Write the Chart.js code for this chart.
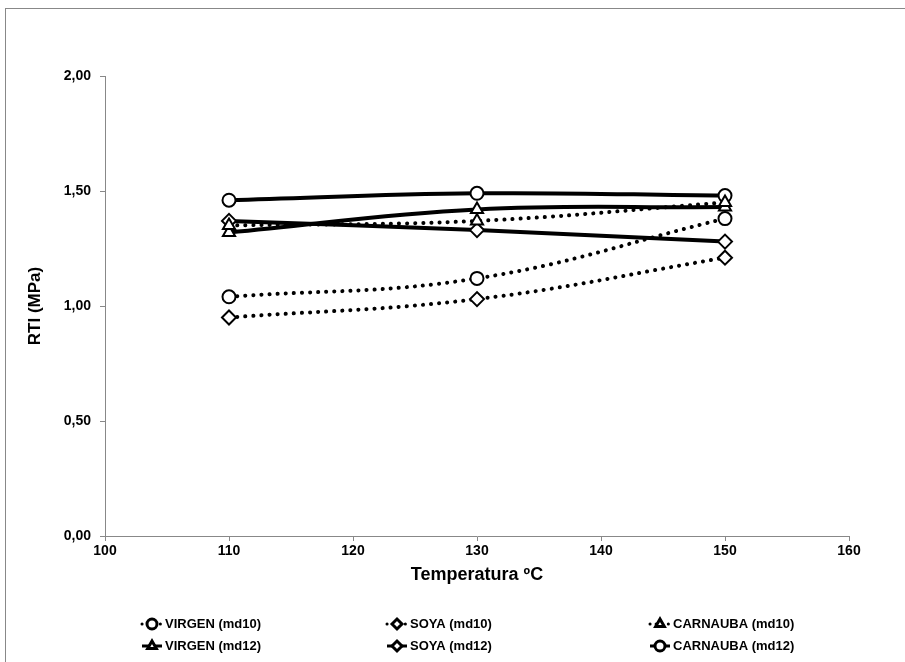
<!DOCTYPE html>
<html>
<head>
<meta charset="utf-8">
<script src="https://cdn.jsdelivr.net/npm/chart.js@4"></script>
<style>
  body { margin: 0; background: #fff; }
</style>
</head>
<body>
<canvas id="grafica" width="905" height="662"></canvas>
<script>
// datos
const temperaturas = [110, 130, 150];
const virgenMd10 = [1.04, 1.12, 1.38];
const soyaMd10 = [0.95, 1.03, 1.21];
const carnaubaMd10 = [1.35, 1.37, 1.45];
const virgenMd12 = [1.32, 1.42, 1.43];
const soyaMd12 = [1.37, 1.33, 1.28];
const carnaubaMd12 = [1.46, 1.49, 1.48];

const etiquetas = ['VIRGEN (md10)', 'SOYA (md10)', 'CARNAUBA (md10)', 'VIRGEN (md12)', 'SOYA (md12)', 'CARNAUBA (md12)'];
const series = [virgenMd10, soyaMd10, carnaubaMd10, virgenMd12, soyaMd12, carnaubaMd12];
const marcadores = ['circle', 'rectRot', 'triangle', 'triangle', 'rectRot', 'circle'];

const fuente = 'Liberation Sans';

function puntos(valores) {
    return temperaturas.map((t, i) => ({ x: t, y: valores[i] }));
}

const datasets = series.map((valores, i) => {
    const punteada = i < 3;
    return {
        label: etiquetas[i],
        data: puntos(valores),
        borderColor: '#000',
        borderWidth: 4,
        borderDash: punteada ? [0.1, 8] : [],
        borderCapStyle: punteada ? 'round' : 'butt',
        tension: 0.4,
        pointStyle: marcadores[i],
        pointRadius: marcadores[i] === 'circle' ? 6.5 : 7,
        pointBorderWidth: 2,
        pointBackgroundColor: '#fff',
        pointBorderColor: '#000',
        fill: false
    };
});

// fondo y borde del grafico
const fondo = {
    id: 'fondo',
    beforeDraw(chart) {
        const ctx = chart.ctx;
        ctx.save();
        ctx.fillStyle = '#fff';
        ctx.fillRect(0, 0, chart.width, chart.height);
        ctx.strokeStyle = '#888';
        ctx.lineWidth = 1;
        ctx.strokeRect(5.5, 8.5, chart.width + 10, chart.height + 10);
        ctx.restore();
    }
};

// leyenda en dos filas y tres columnas
const leyenda = {
    id: 'leyenda',
    afterDraw(chart) {
        const ctx = chart.ctx;
        const columnas = [140, 385, 648];
        const filas = [624, 646];
        chart.data.datasets.forEach((ds, i) => {
            const x = columnas[i % 3];
            const y = filas[Math.floor(i / 3)];
            ctx.save();
            ctx.strokeStyle = '#000';
            ctx.lineWidth = 3;
            ctx.lineCap = ds.borderCapStyle;
            ctx.setLineDash(ds.borderDash.length ? [0.1, 6] : []);
            ctx.beginPath();
            ctx.moveTo(x + 2, y);
            ctx.lineTo(x + 22, y);
            ctx.stroke();
            ctx.setLineDash([]);
            ctx.fillStyle = '#fff';
            ctx.strokeStyle = '#000';
            Chart.helpers.drawPoint(ctx, { pointStyle: ds.pointStyle, radius: 5, borderWidth: 1.2, rotation: 0 }, x + 12, y);
            ctx.fillStyle = '#000';
            ctx.font = 'bold 13px "' + fuente + '"';
            ctx.textBaseline = 'middle';
            ctx.textAlign = 'left';
            ctx.fillText(ds.label, x + 25, y);
            ctx.restore();
        });
    }
};

const ctx = document.getElementById('grafica').getContext('2d');
new Chart(ctx, {
    type: 'line',
    data: { datasets: datasets },
    options: {
        responsive: false,
        animation: false,
        devicePixelRatio: 1,
        layout: { padding: { top: 76, right: 56, bottom: 60, left: 0 } },
        plugins: {
            legend: { display: false },
            tooltip: { enabled: false }
        },
        scales: {
            x: {
                type: 'linear',
                min: 100,
                max: 160,
                afterFit: (scale) => { scale.height = 66; },
                ticks: {
                    stepSize: 10,
                    color: '#000',
                    padding: 2,
                    font: { family: fuente, size: 14, weight: 'bold' }
                },
                grid: { drawOnChartArea: false, tickLength: 5, color: '#888' },
                border: { color: '#888' },
                title: {
                    display: true,
                    text: 'Temperatura ºC',
                    color: '#000',
                    font: { family: fuente, size: 18, weight: 'bold' },
                    padding: { top: 0, bottom: 16 }
                }
            },
            y: {
                min: 0,
                max: 2,
                afterFit: (scale) => { scale.width = 105; },
                ticks: {
                    stepSize: 0.5,
                    color: '#000',
                    padding: 9,
                    font: { family: fuente, size: 14, weight: 'bold' },
                    callback: (v) => v.toFixed(2).replace('.', ',')
                },
                grid: { drawOnChartArea: false, tickLength: 5, color: '#888' },
                border: { color: '#888' },
                title: {
                    display: true,
                    text: 'RTI (MPa)',
                    color: '#000',
                    font: { family: fuente, size: 17, weight: 'bold' },
                    padding: { top: 25, bottom: 0 }
                }
            }
        }
    },
    plugins: [fondo, leyenda]
});
</script>
</body>
</html>
